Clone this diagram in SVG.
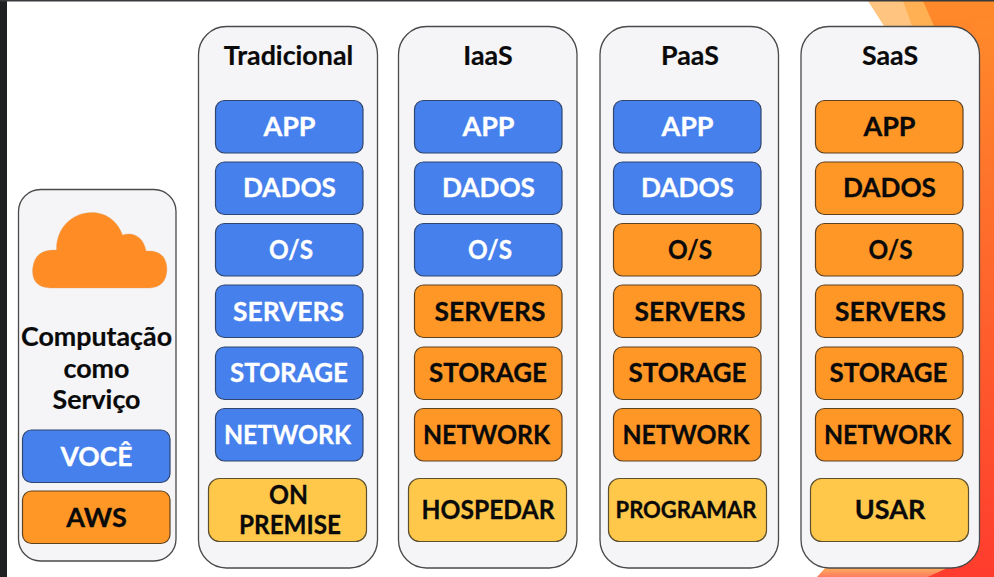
<svg xmlns="http://www.w3.org/2000/svg" width="994" height="577" viewBox="0 0 994 577">
<style>
text{font-family:Lato,"Liberation Sans",sans-serif;font-weight:700;text-anchor:middle}
.col{fill:#f5f4f7;stroke:#4a4a4a;stroke-width:1.3}
.b,.o,.y{stroke-width:1.2}
.b{fill:#4680ec;stroke:#2f466e}
.o{fill:#ff9727;stroke:#5e4220}
.y{fill:#ffc84a;stroke:#5c5030}
.tb{fill:#fff;stroke:#fff;stroke-width:.3;font-size:27px}
.tk{fill:#0a0a0a;stroke:#0a0a0a;stroke-width:.3;font-size:27px}
.h{fill:#0a0a0a;stroke:#0a0a0a;stroke-width:.2;font-size:26.800px}
</style>
<defs>
<linearGradient id="bg" x1="0" y1="0" x2="0" y2="1"><stop offset="0" stop-color="#ff8a2a"/><stop offset="1" stop-color="#ff3c2e"/></linearGradient>
<linearGradient id="bg2" x1="0" y1="0" x2="0" y2="1"><stop offset="0" stop-color="#ffb45a"/><stop offset="1" stop-color="#ff7a62"/></linearGradient>
</defs>
<rect width="994" height="577" fill="#fff"/>
<path d="M868 1L884 26H960V1Z" fill="#ffc480"/>
<path d="M903 1L912 26H994V1Z" fill="#ffb053"/>
<path d="M817 577L826 567H994V577Z" fill="url(#bg2)"/>
<path d="M923 1L934 26L994 60V577H928L950 567L994 520V1Z" fill="url(#bg)"/>
<rect x="975" y="20" width="19" height="557" fill="url(#bg)"/>
<path d="M928 577L950 567H994V577Z" fill="#ff3c2e"/>
<rect x="0" y="0" width="7" height="577" fill="#1f2022"/>
<rect x="0" y="0" width="994" height="1.500" fill="#37393c"/>
<g id="connectors"/>
<g id="legend">
<rect class="col" x="18.500" y="189.500" width="157.500" height="371.500" rx="22"/>
<path d="M50 288Q32 287 32.500 270Q33.500 251 52 250H56.500C56 228 72 212.500 92 212.500C107 212.500 118 222 122.500 235C134 231 144 238 146 251H152Q167 253 167 270Q166 287 150 288Z" fill="#ff8c24" stroke="#d9a878" stroke-opacity=".35" stroke-width="1"/>
<text class="h" x="96.500" y="346">Computação</text>
<text class="h" x="96.500" y="378">como</text>
<text class="h" x="96.500" y="409">Serviço</text>
<rect class="b" x="22.500" y="430" width="147.500" height="52.500" rx="9"/><text class="tb" x="96.500" y="466" textLength="72" lengthAdjust="spacingAndGlyphs">VOCÊ</text>
<rect class="o" x="22.500" y="491" width="147.500" height="52.500" rx="9"/><text class="tk" x="96.500" y="527">AWS</text>
</g>
<g id="tradicional">
<rect class="col" x="198.500" y="26.500" width="179" height="541.500" rx="28"/>
<text class="h" x="288.500" y="64.500">Tradicional</text>
<rect class="b" x="215.500" y="100.500" width="147.500" height="52.500" rx="9"/><text class="tb" x="289.500" y="136">APP</text>
<rect class="b" x="215.500" y="162" width="147.500" height="52.500" rx="9"/><text class="tb" x="289.500" y="197" textLength="93" lengthAdjust="spacingAndGlyphs">DADOS</text>
<rect class="b" x="215.500" y="223.500" width="147.500" height="52.500" rx="9"/><text class="tb" x="291" y="259" textLength="44" lengthAdjust="spacingAndGlyphs">O/S</text>
<rect class="b" x="215.500" y="285" width="147.500" height="52.500" rx="9"/><text class="tb" x="288.500" y="321" textLength="111" lengthAdjust="spacingAndGlyphs">SERVERS</text>
<rect class="b" x="215.500" y="347" width="147.500" height="52.500" rx="9"/><text class="tb" x="289" y="382" textLength="118" lengthAdjust="spacingAndGlyphs">STORAGE</text>
<rect class="b" x="215.500" y="408.500" width="147.500" height="52.500" rx="9"/><text class="tb" x="287.500" y="444" textLength="127" lengthAdjust="spacingAndGlyphs">NETWORK</text>
<rect class="y" x="208.500" y="478.500" width="158" height="63" rx="11"/><text class="tk" x="288.500" y="504" textLength="39" lengthAdjust="spacingAndGlyphs">ON</text><text class="tk" x="290" y="534" textLength="102" lengthAdjust="spacingAndGlyphs">PREMISE</text>
</g>
<g id="iaas">
<rect class="col" x="398.500" y="26.500" width="178.500" height="541.500" rx="28"/>
<text class="h" x="488" y="64.500">IaaS</text>
<rect class="b" x="414.500" y="100.500" width="147.500" height="52.500" rx="9"/><text class="tb" x="488.500" y="136">APP</text>
<rect class="b" x="414.500" y="162" width="147.500" height="52.500" rx="9"/><text class="tb" x="488.500" y="197" textLength="93" lengthAdjust="spacingAndGlyphs">DADOS</text>
<rect class="b" x="414.500" y="223.500" width="147.500" height="52.500" rx="9"/><text class="tb" x="490" y="259" textLength="44" lengthAdjust="spacingAndGlyphs">O/S</text>
<rect class="o" x="414.500" y="285" width="147.500" height="52.500" rx="9"/><text class="tk" x="490" y="321" textLength="111" lengthAdjust="spacingAndGlyphs">SERVERS</text>
<rect class="o" x="414.500" y="347" width="147.500" height="52.500" rx="9"/><text class="tk" x="488" y="382" textLength="118" lengthAdjust="spacingAndGlyphs">STORAGE</text>
<rect class="o" x="414.500" y="408.500" width="147.500" height="52.500" rx="9"/><text class="tk" x="486.500" y="444" textLength="127" lengthAdjust="spacingAndGlyphs">NETWORK</text>
<rect class="y" x="408.500" y="478.500" width="158" height="63" rx="11"/><text class="tk" x="488" y="519" textLength="133" lengthAdjust="spacingAndGlyphs">HOSPEDAR</text>
</g>
<g id="paas">
<rect class="col" x="600" y="26.500" width="178.500" height="541.500" rx="28"/>
<text class="h" x="690" y="64.500">PaaS</text>
<rect class="b" x="613.500" y="100.500" width="147.500" height="52.500" rx="9"/><text class="tb" x="687.500" y="136">APP</text>
<rect class="b" x="613.500" y="162" width="147.500" height="52.500" rx="9"/><text class="tb" x="687.500" y="197" textLength="93" lengthAdjust="spacingAndGlyphs">DADOS</text>
<rect class="o" x="613.500" y="223.500" width="147.500" height="52.500" rx="9"/><text class="tk" x="690" y="259" textLength="44" lengthAdjust="spacingAndGlyphs">O/S</text>
<rect class="o" x="613.500" y="285" width="147.500" height="52.500" rx="9"/><text class="tk" x="690" y="321" textLength="111" lengthAdjust="spacingAndGlyphs">SERVERS</text>
<rect class="o" x="613.500" y="347" width="147.500" height="52.500" rx="9"/><text class="tk" x="687.500" y="382" textLength="118" lengthAdjust="spacingAndGlyphs">STORAGE</text>
<rect class="o" x="613.500" y="408.500" width="147.500" height="52.500" rx="9"/><text class="tk" x="686" y="444" textLength="127" lengthAdjust="spacingAndGlyphs">NETWORK</text>
<rect class="y" x="608.500" y="478.500" width="158" height="63" rx="11"/><text class="tk" x="686" y="518" style="font-size:22px">PROGRAMAR</text>
</g>
<g id="saas">
<rect class="col" x="801" y="26.500" width="178.500" height="541.500" rx="28"/>
<text class="h" x="890" y="64.500">SaaS</text>
<rect class="o" x="815.500" y="100.500" width="147.500" height="52.500" rx="9"/><text class="tk" x="889.500" y="136">APP</text>
<rect class="o" x="815.500" y="162" width="147.500" height="52.500" rx="9"/><text class="tk" x="889.500" y="197" textLength="93" lengthAdjust="spacingAndGlyphs">DADOS</text>
<rect class="o" x="815.500" y="223.500" width="147.500" height="52.500" rx="9"/><text class="tk" x="890.500" y="259" textLength="44" lengthAdjust="spacingAndGlyphs">O/S</text>
<rect class="o" x="815.500" y="285" width="147.500" height="52.500" rx="9"/><text class="tk" x="890.500" y="321" textLength="111" lengthAdjust="spacingAndGlyphs">SERVERS</text>
<rect class="o" x="815.500" y="347" width="147.500" height="52.500" rx="9"/><text class="tk" x="888.500" y="382" textLength="118" lengthAdjust="spacingAndGlyphs">STORAGE</text>
<rect class="o" x="815.500" y="408.500" width="147.500" height="52.500" rx="9"/><text class="tk" x="887.500" y="444" textLength="127" lengthAdjust="spacingAndGlyphs">NETWORK</text>
<rect class="y" x="810.500" y="478.500" width="158" height="63" rx="11"/><text class="tk" x="890" y="519">USAR</text>
</g>
</svg>
